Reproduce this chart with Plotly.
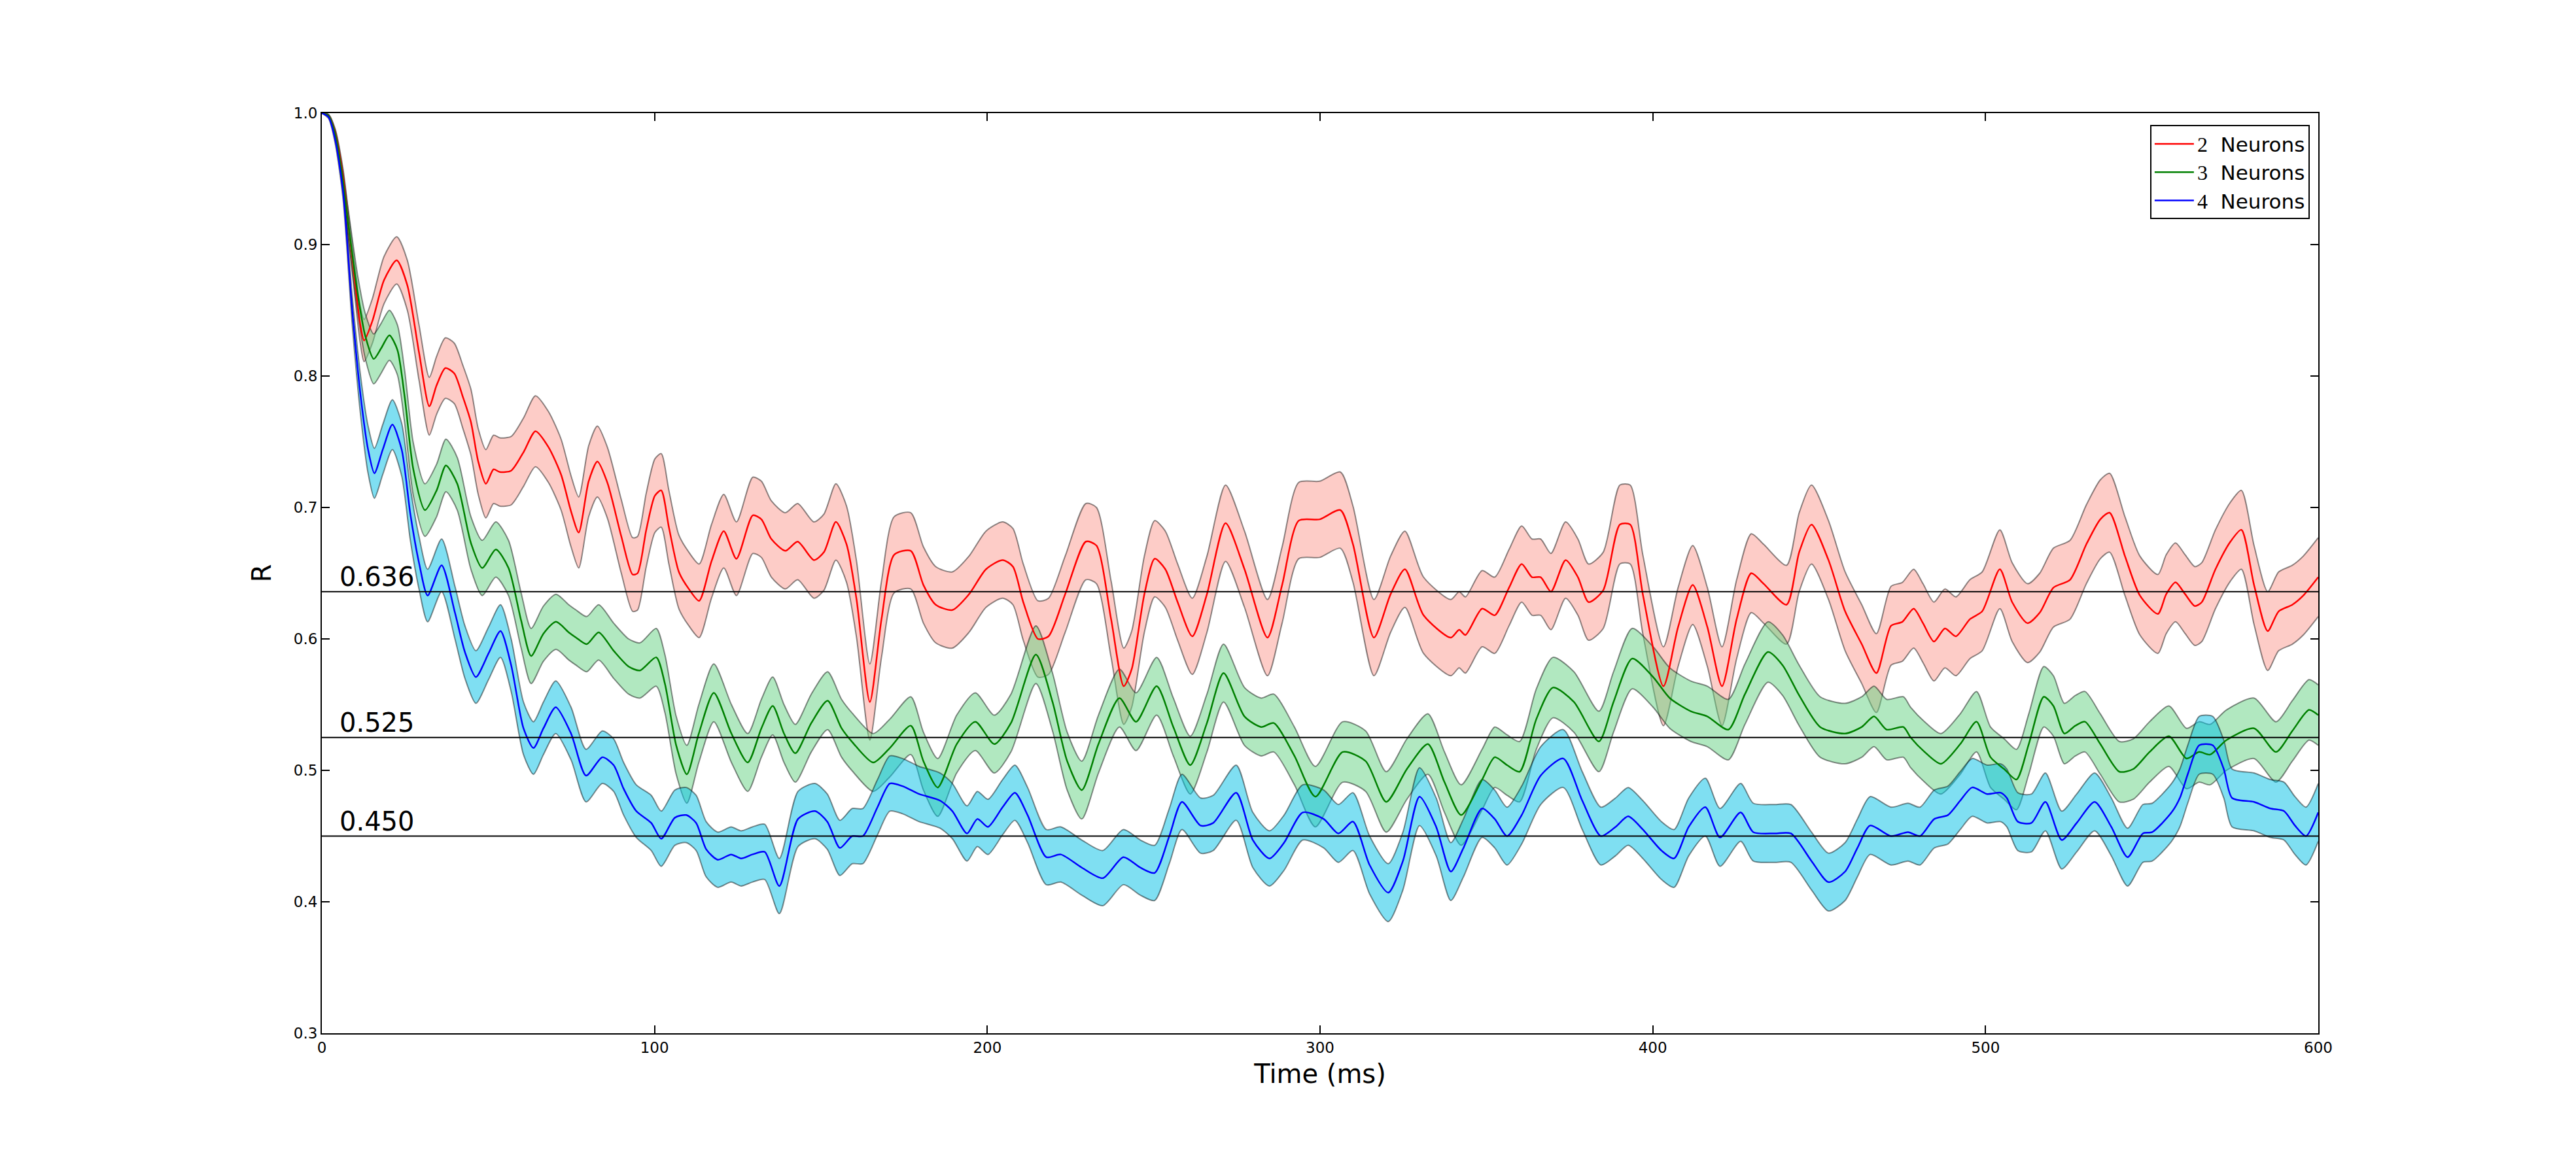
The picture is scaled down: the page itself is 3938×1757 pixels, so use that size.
import plotly.graph_objects as go

# ---- data: (time ms, mean R, half-width of band) ----
RED = [
(0,1.000,0.000),(2,0.998,0.001),(4,0.985,0.003),(6.4,0.951,0.006),(8,0.915,0.009),(9.9,0.873,0.012),
(11.5,0.840,0.014),(12.7,0.827,0.016),(15.2,0.842,0.017),(18.7,0.873,0.018),(22.5,0.888,0.018),
(25.7,0.869,0.019),(29.2,0.818,0.021),(32.3,0.777,0.022),(34.5,0.793,0.022),(37.1,0.806,0.023),
(39.8,0.802,0.023),(42.4,0.784,0.024),(44.8,0.765,0.025),(47,0.735,0.025),(49.3,0.718,0.026),
(51.6,0.729,0.026),(53.5,0.727,0.026),(56.9,0.728,0.026),(60.6,0.742,0.026),(64.2,0.758,0.027),
(68.1,0.746,0.027),(71.9,0.725,0.027),(74.9,0.697,0.027),(77.2,0.681,0.027),(80.2,0.720,0.027),
(82.8,0.735,0.027),(85.8,0.719,0.027),(90,0.678,0.028),(93.4,0.649,0.028),(94.9,0.650,0.028),
(97.5,0.683,0.028),(100.1,0.709,0.028),(102,0.713,0.028),(104.3,0.685,0.028),(107.3,0.651,0.028),
(110.3,0.638,0.028),(113.4,0.629,0.028),(117.1,0.659,0.028),(120.8,0.682,0.028),(124.6,0.661,0.028),
(129.5,0.694,0.029),(132.1,0.691,0.029),(135.1,0.676,0.029),(139.3,0.667,0.029),(143,0.674,0.029),
(147.9,0.660,0.029),(150.9,0.666,0.029),(154.5,0.689,0.029),(157.7,0.672,0.029),(160.7,0.630,0.029),
(164.7,0.552,0.029),(168.2,0.615,0.029),(172,0.664,0.029),(177,0.667,0.029),(180.8,0.641,0.029),
(184.5,0.626,0.029),(189.5,0.622,0.029),(194.5,0.634,0.029),(199.6,0.653,0.029),(204.6,0.660,0.029),
(207.7,0.655,0.029),(210.8,0.628,0.029),(215.2,0.600,0.029),(218.4,0.602,0.029),(223.4,0.634,0.029),
(229.6,0.674,0.029),(232.8,0.671,0.029),(237.2,0.615,0.029),(241,0.564,0.029),(243.4,0.577,0.029),
(247.2,0.634,0.029),(250.3,0.661,0.029),(253.5,0.653,0.029),(257.2,0.628,0.029),(261.6,0.602,0.029),
(266,0.634,0.029),(271.6,0.688,0.029),(277.3,0.653,0.029),(284.2,0.601,0.029),(288.6,0.641,0.029),
(293.6,0.690,0.029),(299.9,0.691,0.029),(306.1,0.698,0.029),(309.9,0.672,0.029),(316.2,0.601,0.029),
(321.2,0.634,0.029),(325.5,0.653,0.029),(331.1,0.618,0.029),(339.3,0.601,0.029),(341.8,0.607,0.029),
(343.7,0.603,0.029),(348.7,0.623,0.029),(352.5,0.618,0.029),(356.8,0.639,0.029),(360.6,0.657,0.029),
(363.7,0.647,0.029),(366.3,0.647,0.029),(369.4,0.636,0.029),(373.8,0.660,0.029),(377.5,0.647,0.029),
(380.7,0.628,0.029),(385.1,0.637,0.029),(390.1,0.687,0.030),(393.2,0.687,0.030),(397,0.634,0.030),
(403.2,0.564,0.030),(407.6,0.609,0.030),(412,0.641,0.030),(416.4,0.609,0.030),(420.8,0.564,0.030),
(425.2,0.615,0.030),(429.6,0.650,0.030),(433.3,0.642,0.030),(440.2,0.626,0.030),(444,0.666,0.030),
(447.7,0.687,0.030),(452.8,0.660,0.030),(457.8,0.621,0.030),(462.8,0.596,0.030),(467.2,0.574,0.030),
(471.6,0.610,0.030),(475,0.613,0.030),(478.4,0.623,0.030),(481.2,0.612,0.030),(484.5,0.598,0.030),
(487.8,0.608,0.030),(491.1,0.602,0.030),(495.3,0.615,0.030),(499,0.621,0.030),(504.3,0.653,0.030),
(508,0.628,0.030),(512.6,0.612,0.030),(516.3,0.620,0.030),(520.4,0.639,0.030),(525.4,0.645,0.030),
(530.3,0.672,0.030),(534.5,0.691,0.030),(537.3,0.696,0.030),(541.9,0.663,0.030),(546.4,0.633,0.030),
(551.8,0.619,0.030),(554.3,0.634,0.030),(557.1,0.643,0.030),(560,0.634,0.030),(562.9,0.625,0.030),
(565,0.628,0.030),(569.1,0.653,0.030),(573.6,0.674,0.030),(576.9,0.683,0.030),(580.7,0.641,0.030),
(584.8,0.606,0.030),(588.1,0.621,0.030),(592.2,0.626,0.030),(595.5,0.633,0.030),(600,0.647,0.030)]

GREEN = [
(0,1.000,0.000),(2,0.998,0.001),(4,0.984,0.003),(6,0.955,0.006),(8,0.915,0.010),(10.8,0.862,0.014),
(13,0.831,0.017),(15.6,0.813,0.019),(17.8,0.821,0.019),(20.3,0.831,0.019),(22.7,0.820,0.019),
(24.9,0.784,0.020),(27.5,0.729,0.020),(31,0.698,0.020),(34.5,0.713,0.020),(37.3,0.732,0.020),
(40.7,0.718,0.020),(44.8,0.673,0.020),(48.2,0.654,0.021),(52.3,0.668,0.021),(56.1,0.654,0.021),
(59.9,0.614,0.021),(62.9,0.587,0.021),(66.6,0.604,0.021),(70.4,0.613,0.021),(74.2,0.605,0.021),
(76.4,0.601,0.021),(79.6,0.596,0.021),(83.2,0.605,0.021),(87.7,0.591,0.021),(92.2,0.579,0.021),
(95.6,0.576,0.021),(100.5,0.586,0.022),(103.1,0.566,0.022),(106.5,0.519,0.022),(109.7,0.497,0.022),
(113.3,0.528,0.022),(117.8,0.559,0.022),(123.1,0.528,0.022),(128,0.506,0.022),(132.1,0.532,0.022),
(135.5,0.549,0.022),(138.9,0.528,0.022),(142.3,0.513,0.022),(147.1,0.536,0.022),(152,0.553,0.022),
(156.2,0.532,0.022),(159.6,0.521,0.022),(165.7,0.506,0.022),(170.7,0.517,0.022),(177,0.534,0.022),
(180.8,0.507,0.022),(185.1,0.487,0.022),(190.8,0.520,0.022),(196.4,0.537,0.022),(202.1,0.520,0.022),
(207.1,0.536,0.022),(214.6,0.588,0.022),(219.6,0.552,0.022),(224,0.507,0.022),(228.4,0.485,0.022),
(233.4,0.520,0.022),(239.7,0.555,0.022),(244.7,0.537,0.022),(250.9,0.564,0.022),(255.9,0.533,0.022),
(261,0.504,0.022),(266,0.536,0.022),(271,0.574,0.022),(277.3,0.541,0.022),(282.3,0.533,0.022),
(286.1,0.536,0.022),(292.3,0.511,0.022),(298.6,0.480,0.023),(306.8,0.514,0.023),(313.7,0.507,0.023),
(319.9,0.476,0.023),(326.1,0.501,0.023),(332.4,0.520,0.023),(337.4,0.491,0.023),(342.4,0.466,0.023),
(348.7,0.493,0.023),(352.5,0.510,0.023),(356.2,0.504,0.023),(360,0.499,0.023),(365,0.539,0.023),
(370,0.563,0.023),(376.3,0.552,0.023),(383.8,0.522,0.023),(388.2,0.552,0.023),(393.8,0.585,0.023),
(400.1,0.571,0.023),(405.1,0.555,0.023),(411.4,0.545,0.023),(416.4,0.541,0.023),(422.7,0.531,0.023),
(427.7,0.558,0.023),(434.6,0.590,0.023),(439,0.580,0.023),(444,0.557,0.023),(450.3,0.533,0.023),
(457.8,0.528,0.023),(462.8,0.533,0.023),(466.5,0.541,0.023),(470.3,0.531,0.023),(475.3,0.533,0.023),
(477.5,0.525,0.023),(481.7,0.514,0.023),(486.6,0.505,0.023),(492.4,0.520,0.023),(497.3,0.537,0.023),
(501.5,0.510,0.023),(505.6,0.501,0.023),(509.3,0.493,0.023),(513,0.520,0.023),(517.5,0.556,0.023),
(520.4,0.549,0.023),(523.7,0.528,0.023),(527,0.534,0.023),(529.9,0.537,0.023),(534.5,0.520,0.023),
(540.2,0.499,0.023),(544.4,0.501,0.023),(549.3,0.514,0.023),(555.1,0.526,0.023),(560.4,0.509,0.023),
(564.2,0.514,0.023),(567.5,0.512,0.023),(572.4,0.523,0.023),(580.7,0.532,0.023),(587.3,0.514,0.023),
(592.2,0.530,0.023),(597.2,0.546,0.023),(600,0.542,0.023)]

BLUE = [
(0,1.000,0.000),(2,0.997,0.001),(4,0.980,0.003),(6.4,0.940,0.006),(9.1,0.851,0.011),(11.7,0.784,0.015),
(13.9,0.744,0.018),(15.8,0.726,0.019),(18.3,0.744,0.019),(21.2,0.763,0.019),(24,0.744,0.020),
(26.6,0.695,0.020),(29.2,0.658,0.020),(31.8,0.633,0.020),(36,0.656,0.020),(40,0.620,0.020),
(43,0.590,0.020),(46.3,0.571,0.020),(50.1,0.589,0.020),(53.7,0.606,0.020),(56.9,0.580,0.020),
(60.6,0.532,0.020),(63.6,0.517,0.020),(66.6,0.532,0.020),(70.3,0.548,0.020),(74.9,0.528,0.020),
(79.4,0.496,0.020),(84.3,0.510,0.020),(87.7,0.504,0.020),(90.7,0.486,0.020),(94.5,0.469,0.020),
(99,0.460,0.021),(102,0.448,0.021),(106.1,0.464,0.021),(109.5,0.466,0.021),(112.5,0.460,0.021),
(115.5,0.440,0.021),(119,0.432,0.021),(123,0.436,0.021),(126,0.433,0.021),(129.4,0.436,0.021),
(133.1,0.438,0.021),(137.5,0.412,0.021),(143.1,0.463,0.021),(148.2,0.469,0.021),(151.9,0.461,0.021),
(155.7,0.441,0.021),(159.4,0.450,0.021),(162.6,0.450,0.021),(167,0.472,0.021),(170.7,0.490,0.021),
(174.5,0.488,0.021),(179.5,0.482,0.021),(185.8,0.477,0.021),(189.5,0.469,0.021),(193.9,0.452,0.021),
(197,0.463,0.021),(200.2,0.457,0.021),(204.6,0.472,0.021),(208.3,0.483,0.021),(212.1,0.466,0.021),
(217.7,0.434,0.021),(222.1,0.436,0.021),(228.4,0.426,0.021),(234.7,0.418,0.021),(240.9,0.434,0.021),
(246,0.426,0.021),(250.3,0.422,0.021),(254.7,0.450,0.021),(258.5,0.476,0.021),(264.1,0.458,0.021),
(267.9,0.460,0.021),(274.8,0.483,0.021),(279.8,0.447,0.021),(284.8,0.433,0.021),(289.2,0.445,0.021),
(294.8,0.468,0.021),(301.1,0.463,0.022),(305.5,0.452,0.022),(309.9,0.461,0.022),(314.9,0.428,0.022),
(320.5,0.407,0.022),(324.9,0.431,0.022),(329.9,0.480,0.022),(334.9,0.457,0.022),(339.3,0.423,0.022),
(343.1,0.441,0.022),(348.7,0.471,0.022),(352.5,0.463,0.022),(356.2,0.450,0.022),(360.6,0.466,0.022),
(366.3,0.496,0.022),(373.1,0.509,0.022),(378.8,0.477,0.022),(384.4,0.450,0.022),(388.8,0.457,0.022),
(392.6,0.465,0.022),(397,0.455,0.022),(402.6,0.439,0.022),(406.4,0.433,0.022),(410.8,0.457,0.022),
(415.8,0.472,0.022),(420.2,0.449,0.022),(426.4,0.468,0.022),(430.2,0.453,0.022),(436.5,0.452,0.022),
(441.5,0.452,0.022),(447.7,0.431,0.022),(452.8,0.415,0.022),(457.8,0.423,0.022),(461.5,0.441,0.022),
(465.3,0.458,0.022),(471.6,0.450,0.022),(476.7,0.453,0.022),(480.3,0.450,0.022),(484.6,0.463,0.022),
(488.7,0.466,0.022),(492.4,0.477,0.022),(496,0.487,0.022),(500.5,0.482,0.022),(504.5,0.483,0.022),
(506.4,0.479,0.022),(509.7,0.461,0.022),(513.8,0.460,0.022),(518,0.476,0.022),(522.9,0.447,0.022),
(527.4,0.460,0.022),(532.8,0.476,0.022),(537.8,0.457,0.022),(542.7,0.434,0.022),(547.3,0.452,0.022),
(550.1,0.453,0.022),(555.9,0.468,0.022),(558.4,0.479,0.022),(560.9,0.498,0.022),(564.2,0.519,0.022),
(568.3,0.519,0.022),(571.6,0.501,0.022),(574.1,0.479,0.022),(580.7,0.476,0.022),(585.6,0.471,0.022),
(589.7,0.469,0.022),(593,0.458,0.022),(596.3,0.450,0.022),(600,0.468,0.022)]

SERIES_NAMES = ["2", "3", "4"]
REF_LEVELS = [0.636, 0.525, 0.450]
REF_LABELS = ["0.636", "0.525", "0.450"]
X_TICKS = [0, 100, 200, 300, 400, 500, 600]
Y_TICKS = [0.3, 0.4, 0.5, 0.6, 0.7, 0.8, 0.9, 1.0]

series = [
    (RED, "#ff0000", "rgba(250,128,114,0.40)"),
    (GREEN, "#008000", "rgba(100,210,130,0.50)"),
    (BLUE, "#0000ff", "rgba(0,191,230,0.50)"),
]

fig = go.Figure()
EDGE = dict(color="rgba(0,0,0,0.45)", width=2, shape="spline", smoothing=0.7)

# bands
for data, lc, fc in series:
    t = [d[0] for d in data]
    m = [d[1] for d in data]
    hw = [d[2] for d in data]
    up = [a + b for a, b in zip(m, hw)]
    lo = [a - b for a, b in zip(m, hw)]
    fig.add_trace(go.Scatter(x=t, y=up, mode="lines", line=EDGE, showlegend=False, hoverinfo="skip"))
    fig.add_trace(go.Scatter(x=t, y=lo, mode="lines", line=EDGE, fill="tonexty",
                             fillcolor=fc, showlegend=False, hoverinfo="skip"))

# mean lines
for (data, lc, fc), nm in zip(series, SERIES_NAMES):
    t = [d[0] for d in data]
    m = [d[1] for d in data]
    fig.add_trace(go.Scatter(
        x=t, y=m, mode="lines",
        line=dict(color=lc, width=2.5, shape="spline", smoothing=0.7),
        name="<span style='font-family:Liberation Serif;font-size:32px'>%s</span>  Neurons" % nm))

for lvl, lab in zip(REF_LEVELS, REF_LABELS):
    fig.add_shape(type="line", xref="x", yref="y", x0=0, x1=600, y0=lvl, y1=lvl,
                  line=dict(color="black", width=2), layer="above")
    fig.add_annotation(x=5, y=lvl, xref="x", yref="y", text=lab, showarrow=False,
                       xanchor="left", yanchor="bottom", yshift=-2,
                       font=dict(family="DejaVu Sans", size=40, color="black"))

axis_common = dict(showgrid=False, zeroline=False, showline=True, linecolor="black", linewidth=2,
                   mirror="allticks", ticks="inside", ticklen=12, tickwidth=2, tickcolor="black",
                   tickfont=dict(family="DejaVu Sans", size=23, color="black"))

fig.update_layout(
    width=3938, height=1757,
    margin=dict(l=492, r=394, t=173, b=177),
    paper_bgcolor="white", plot_bgcolor="white",
    font=dict(family="DejaVu Sans", color="black"),
    xaxis=dict(range=[0, 600], tickvals=X_TICKS, ticktext=[str(v) for v in X_TICKS],
               title=dict(text="Time (ms)", font=dict(size=40, family="DejaVu Sans"), standoff=14),
               **axis_common),
    yaxis=dict(range=[0.3, 1.0], tickvals=Y_TICKS, ticktext=["%.1f" % v for v in Y_TICKS],
               title=dict(text="R", font=dict(size=40, family="DejaVu Sans"), standoff=22),
               **axis_common),
    legend=dict(x=0.9957, y=0.987, xanchor="right", yanchor="top", traceorder="normal",
                bordercolor="black", borderwidth=2, bgcolor="white",
                font=dict(family="DejaVu Sans", size=31, color="black"),
                tracegroupgap=0, itemwidth=60),
    showlegend=True,
)

fig.write_html("out.html")
